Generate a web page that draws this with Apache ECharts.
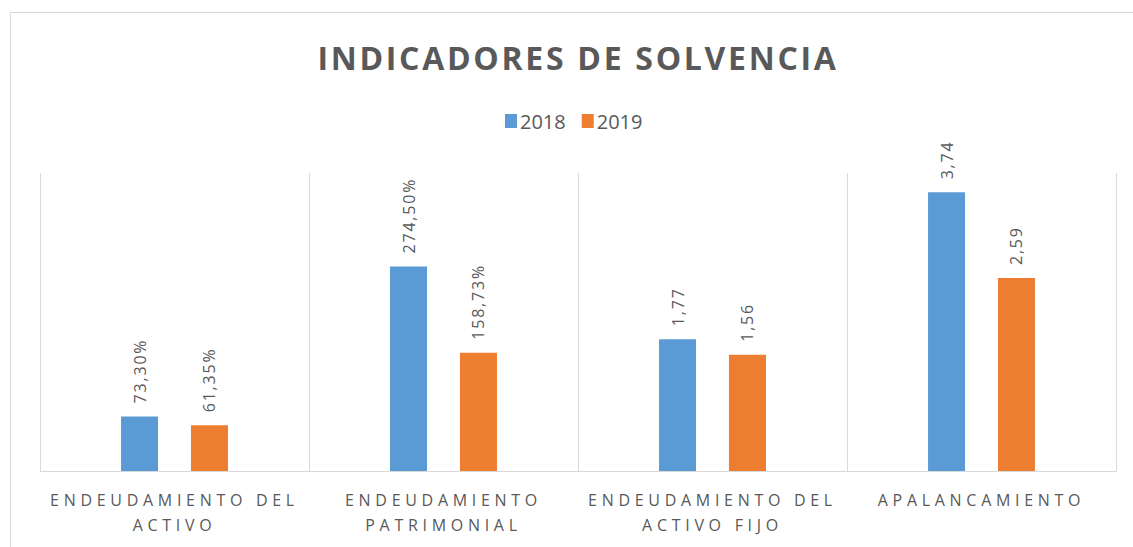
<!DOCTYPE html>
<html>
<head>
<meta charset="utf-8">
<script src="https://cdn.jsdelivr.net/npm/echarts@6/dist/echarts.min.js"></script>
<style>
  html, body { margin: 0; padding: 0; background: #fff; }
  #chart { width: 1133px; height: 547px; }
</style>
</head>
<body>
<div id="chart"></div>
<script>
// datos de la gráfica
const categories = ['ENDEUDAMIENTO DEL\nACTIVO', 'ENDEUDAMIENTO\nPATRIMONIAL', 'ENDEUDAMIENTO DEL\nACTIVO FIJO', 'APALANCAMIENTO'];
const years = ['2018', '2019'];
const values2018 = [0.733, 2.745, 1.77, 3.74];
const values2019 = [0.6135, 1.5873, 1.56, 2.59];
const labels2018 = ['73,30%', '274,50%', '1,77', '3,74'];
const labels2019 = ['61,35%', '158,73%', '1,56', '2,59'];
const titleText = 'INDICADORES DE SOLVENCIA';

const gray = '#595959';
const font = '"Open Sans", sans-serif';

function barLabel(labels) {
  return {
    show: true,
    position: 'top',
    rotate: 90,
    align: 'left',
    verticalAlign: 'middle',
    distance: 13,
    color: gray,
    fontFamily: font,
    fontSize: 16,
    formatter: p => labels[p.dataIndex]
  };
}

const chart = echarts.init(document.getElementById('chart'), null, { renderer: 'svg' });
chart.setOption({
  animation: false,
  backgroundColor: '#fff',
  graphic: [{
    type: 'rect',
    shape: { x: 10.5, y: 12.5, width: 1140, height: 560 },
    style: { fill: 'none', stroke: '#D9D9D9', lineWidth: 1 },
    silent: true
  }],
  title: {
    text: titleText,
    left: 573,
    textAlign: 'center',
    top: 36,
    textStyle: { color: gray, fontFamily: font, fontWeight: 'bold', fontSize: 32 }
  },
  legend: {
    data: years,
    left: 500,
    top: 106,
    icon: 'rect',
    itemWidth: 12,
    itemHeight: 14,
    itemGap: 16,
    textStyle: { color: gray, fontFamily: font, fontSize: 20, padding: [0, 0, 0, -2] }
  },
  grid: { left: 40, right: 17, top: 173, bottom: 76, containLabel: false },
  xAxis: {
    type: 'category',
    data: categories,
    axisLine: { lineStyle: { color: '#D9D9D9' } },
    axisTick: { show: false },
    splitLine: { show: true, lineStyle: { color: '#D9D9D9' } },
    axisLabel: { color: gray, fontFamily: font, fontSize: 16, lineHeight: 25, margin: 16, interval: 0 }
  },
  yAxis: {
    type: 'value',
    min: 0,
    max: 4,
    show: false,
    splitLine: { show: false }
  },
  series: [
    { name: years[0], type: 'bar', data: values2018, barWidth: 37, barGap: '89%', itemStyle: { color: '#5B9BD5' }, label: barLabel(labels2018) },
    { name: years[1], type: 'bar', data: values2019, barWidth: 37, itemStyle: { color: '#ED7D31' }, label: barLabel(labels2019) }
  ]
});

// espaciado entre letras como en el original
function spacing() {
  const axisLines = categories.join('\n').split('\n');
  const dataLabels = labels2018.concat(labels2019);
  document.querySelectorAll('#chart svg text').forEach(t => {
    const s = t.textContent;
    if (s === titleText) t.style.letterSpacing = '2.7px';
    else if (axisLines.indexOf(s) >= 0) t.style.letterSpacing = '4.7px';
    else if (dataLabels.indexOf(s) >= 0) t.style.letterSpacing = '1.8px';
  });
}
chart.on('finished', spacing);
spacing();
</script>
</body>
</html>
